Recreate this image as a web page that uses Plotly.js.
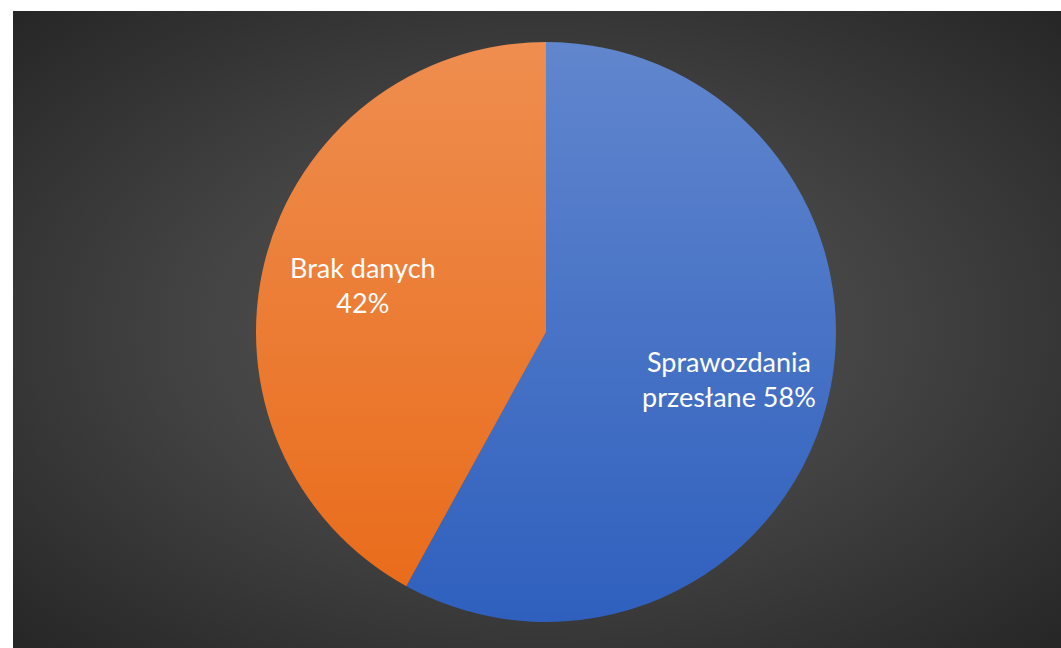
<!DOCTYPE html>
<html>
<head>
<meta charset="utf-8">
<script src="https://cdn.plot.ly/plotly-3.0.1.min.js"></script>
<style>
  html, body { margin: 0; padding: 0; background: #ffffff; }
  #bg { position: absolute; left: 13px; top: 11px; width: 1048px; height: 637px;
        background: radial-gradient(ellipse at 50% 50%, #545454 0%, #444444 45%, #262626 100%); }
  #chart { position: absolute; left: 0; top: 0; width: 1061px; height: 648px; }
</style>
</head>
<body>
<div id="bg"></div>
<div id="chart"></div>
<script>
const categories = ["Sprawozdania przesłane", "Brak danych"];
const labelLines = ["Sprawozdania<br>przesłane 58%", "Brak danych<br>42%"];
const values = [58, 42];
const colors = ["#2f60be", "#e96a18"];

const cx = 546, cy = 332, r = 290, W = 1061, H = 648;
const dom = { x: [(cx - r) / W, (cx + r) / W], y: [1 - (cy + r) / H, 1 - (cy - r) / H] };

const overlay = 'data:image/svg+xml;utf8,' + encodeURIComponent(
  '<svg xmlns="http://www.w3.org/2000/svg" width="200" height="200" viewBox="0 0 200 200">' +
  '<defs><linearGradient id="g" x1="0" y1="0" x2="0" y2="1">' +
  '<stop offset="0" stop-color="#ffffff" stop-opacity="0.24"/>' +
  '<stop offset="1" stop-color="#ffffff" stop-opacity="0"/>' +
  '</linearGradient></defs><circle cx="100" cy="100" r="100" fill="url(#g)"/></svg>');

const trace = {
  type: "pie",
  labels: categories,
  values: values,
  sort: false,
  direction: "clockwise",
  rotation: 0,
  domain: dom,
  marker: { colors: colors, line: { width: 0 } },
  textinfo: "none",
  hoverinfo: "none",
  showlegend: false
};

// label positions derived from each slice's mid-angle
const total = values.reduce((a, b) => a + b, 0);
let cum = 0;
const annotations = values.map((v, i) => {
  const mid = (cum + v / 2) / total * 2 * Math.PI;
  cum += v;
  const rr = 0.65 * r;
  return {
    text: labelLines[i], showarrow: false, xref: "paper", yref: "paper",
    x: (cx + rr * Math.sin(mid)) / W, y: 1 - (cy - rr * Math.cos(mid)) / H,
    xanchor: "center", yanchor: "middle", align: "center",
    font: { family: "Lato, 'Open Sans', sans-serif", size: 27, color: "#ffffff" }
  };
});

const layout = {
  width: W, height: H,
  margin: { l: 0, r: 0, t: 0, b: 0 },
  paper_bgcolor: "rgba(0,0,0,0)",
  plot_bgcolor: "rgba(0,0,0,0)",
  showlegend: false,
  annotations: annotations,
  images: [{ source: overlay, xref: "paper", yref: "paper", x: dom.x[0], y: dom.y[1],
             sizex: dom.x[1] - dom.x[0], sizey: dom.y[1] - dom.y[0],
             xanchor: "left", yanchor: "top", sizing: "stretch", layer: "above" }]
};

Plotly.newPlot("chart", [trace], layout, { displayModeBar: false, staticPlot: true });
</script>
</body>
</html>
